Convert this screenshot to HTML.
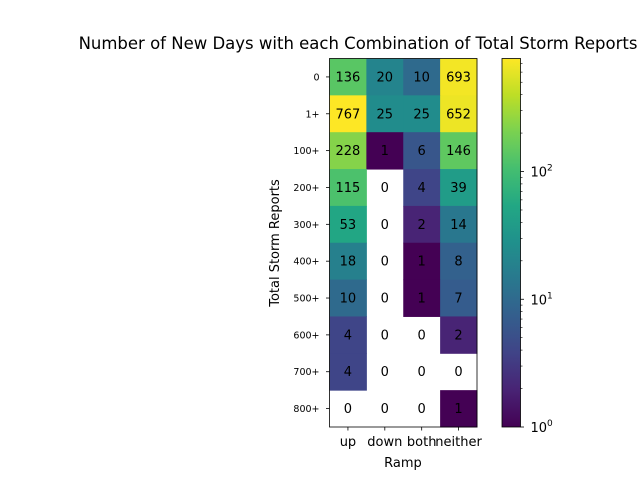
<!DOCTYPE html>
<html><head><meta charset="utf-8">
<style>
body{margin:0;background:#fff;font-family:"Liberation Sans","DejaVu Sans",sans-serif;}
svg text{font-family:"DejaVu Sans","Liberation Sans",sans-serif;}
</style></head>
<body>
<svg id="chart" width="640" height="480" viewBox="0 0 640 480" xmlns="http://www.w3.org/2000/svg">
<rect width="640" height="480" fill="#fff"/>
<text x="358" y="49" font-size="16.5" text-anchor="middle" fill="#000">Number of New Days with each Combination of Total Storm Reports</text>
<g id="cells"></g>
<g id="axes"></g>
<defs><linearGradient id="cbg" x1="0" y1="1" x2="0" y2="0"></linearGradient></defs>
<g id="cbar"></g>
</svg>
<script>
const columns = ["up","down","both","neither"];
const rows = ["0","1+","100+","200+","300+","400+","500+","600+","700+","800+"];
const values = [
 [136,20,10,693],
 [767,25,25,652],
 [228,1,6,146],
 [115,0,4,39],
 [53,0,2,14],
 [18,0,1,8],
 [10,0,1,7],
 [4,0,0,2],
 [4,0,0,0],
 [0,0,0,1]
];
const cbTicks = [1,10,100];
const cbTickLabels = ["0","1","2"];

const NS="http://www.w3.org/2000/svg";
const X0=329.5, X1=477, Y0=58.5, Y1=427;
const vmin=1, vmax=Math.max(...values.flat());
const cw=(X1-X0)/columns.length, ch=(Y1-Y0)/rows.length;
const xPos=i=>X0+i*cw, yPos=j=>Y0+j*ch;
const CB={x:502,w:18.5,top:58.5,bot:427};
const cbY=v=>CB.bot-(Math.log10(v)-Math.log10(vmin))/(Math.log10(vmax)-Math.log10(vmin))*(CB.bot-CB.top);
const vir=[[68,1,84],[72,35,116],[64,67,135],[52,94,141],[41,120,142],[32,144,140],[34,167,132],[68,190,112],[121,209,81],[189,222,38],[253,231,37]];
function viridis(t){t=Math.max(0,Math.min(1,t));const s=t*10,i=Math.min(9,Math.floor(s)),f=s-i;const a=vir[i],b=vir[i+1];return `rgb(${a.map((c,k)=>Math.round(c+(b[k]-c)*f)).join(",")})`;}
const norm=v=>(Math.log10(v)-Math.log10(vmin))/(Math.log10(vmax)-Math.log10(vmin));
function mk(tag,attrs,parent,txt){const e=document.createElementNS(NS,tag);for(const k in attrs)e.setAttribute(k,attrs[k]);if(txt!==undefined)e.textContent=txt;parent.appendChild(e);return e;}
const cells=document.getElementById('cells'), axes=document.getElementById('axes'), cbar=document.getElementById('cbar');
values.forEach((row,j)=>row.forEach((v,i)=>{
  if(v>0){const r=mk('rect',{x:xPos(i),y:yPos(j),width:cw+0.5,height:ch+0.5,fill:viridis(norm(v))},cells);
  
  }
  const t=mk('text',{x:xPos(i)+cw/2,y:yPos(j)+ch/2+4.5,'font-size':13,'text-anchor':'middle',fill:'#000'},cells,String(v));
  
  
}));
const frame=mk('rect',{x:X0,y:Y0,width:X1-X0,height:Y1-Y0,fill:'none',stroke:'#000','stroke-width':0.8},axes);


columns.forEach((c,i)=>{const x=xPos(i)+cw/2;mk('line',{x1:x,x2:x,y1:Y1,y2:Y1+3.5,stroke:'#000','stroke-width':0.8},axes);
  const t=mk('text',{x:x,y:Y1+19,'font-size':13,'text-anchor':'middle'},axes,c);
  
  });
rows.forEach((r,j)=>{const y=yPos(j)+ch/2;mk('line',{x1:X0-3.5,x2:X0,y1:y,y2:y,stroke:'#000','stroke-width':0.8},axes);
  const t=mk('text',{x:X0-10,y:y+3.5,'font-size':9.5,'text-anchor':'end'},axes,r);
  
  });
let t=mk('text',{x:403,y:467,'font-size':13,'text-anchor':'middle'},axes,'Ramp');


t=mk('text',{x:0,y:0,'font-size':13,'text-anchor':'middle',transform:'translate(279,243) rotate(-90)'},axes,'Total Storm Reports');


const g=document.getElementById('cbg');
for(let k=0;k<=20;k++){mk('stop',{offset:(k/20),'stop-color':viridis(k/20)},g);}
const cb=mk('rect',{x:CB.x,y:CB.top,width:CB.w,height:CB.bot-CB.top,fill:'url(#cbg)',stroke:'#000','stroke-width':0.8},cbar);


cbTicks.forEach((v,k)=>{const y=cbY(v);mk('line',{x1:CB.x+CB.w,x2:CB.x+CB.w+3.5,y1:y,y2:y,stroke:'#000','stroke-width':0.8},cbar);
  const tx=mk('text',{x:CB.x+CB.w+10,y:y+5,'font-size':13},cbar,'10');
  
  
  mk('tspan',{dy:-6,'font-size':9},tx,cbTickLabels[k]);});
for(let d=1;d<=100;d*=10)for(let m=2;m<=9;m++){const v=d*m;if(v>vmax)break;const y=cbY(v);mk('line',{x1:CB.x+CB.w,x2:CB.x+CB.w+2,y1:y,y2:y,stroke:'#000','stroke-width':0.6},cbar);}
</script>
</body></html>
